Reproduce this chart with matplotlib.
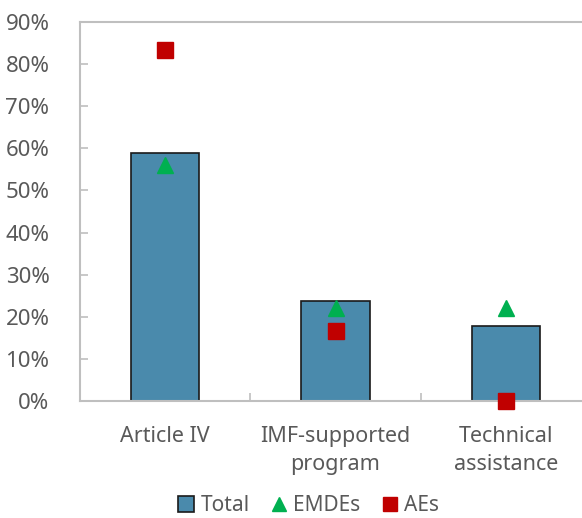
import matplotlib
matplotlib.use("Agg")
import matplotlib.pyplot as plt
from matplotlib.lines import Line2D
from matplotlib.patches import Patch
import numpy as np

categories = ["Article IV", "IMF-supported\nprogram", "Technical\nassistance"]
total = [59.0, 23.8, 17.8]
emdes = [56.0, 22.0, 22.0]
aes = [83.3, 16.7, 0.0]
yticks = [0, 10, 20, 30, 40, 50, 60, 70, 80, 90]

plt.rcParams['font.family'] = ['Noto Sans', 'DejaVu Sans']
txt = '#595959'
spine_c = '#BFBFBF'

fig = plt.figure(figsize=(5.82, 5.18), dpi=100)
ax = fig.add_axes([0.1375, 0.2259, 0.878, 0.7316])

x = np.arange(len(categories))
ax.bar(x, total, width=0.4, color='#4A8AAC', edgecolor='#1a1a1a', linewidth=1.2, zorder=2)
ax.plot(x, emdes, linestyle='none', marker='^', markersize=12, color='#00B050', zorder=3)
ax.plot(x, aes, linestyle='none', marker='s', markersize=12, color='#C00000', zorder=3, clip_on=False)

ax.set_xlim(-0.5, 2.5)
ax.set_ylim(0, 90)
ax.set_yticks(yticks)
ax.set_yticklabels([f"{v}%" for v in yticks])
ax.set_xticks(x)
ax.set_xticklabels(categories, linespacing=1.45)
ax.set_xticks([0.5, 1.5], minor=True)

for s in ['top', 'left', 'bottom']:
    ax.spines[s].set_color(spine_c)
    ax.spines[s].set_linewidth(1.5)
ax.spines['right'].set_visible(False)

ax.tick_params(axis='y', direction='in', length=6, color=spine_c, width=1.2,
               labelsize=16, labelcolor=txt, pad=22)
ax.tick_params(axis='x', which='major', length=0, labelsize=15.5, labelcolor=txt, pad=18)
ax.tick_params(axis='x', which='minor', direction='in', length=6, color=spine_c, width=1.2)

handles = [Patch(facecolor='#4A8AAC', edgecolor='#1a1a1a', linewidth=1.2, label='Total'),
           Line2D([], [], linestyle='none', marker='^', markersize=10, color='#00B050', label='EMDEs'),
           Line2D([], [], linestyle='none', marker='s', markersize=10, color='#C00000', label='AEs')]
leg = fig.legend(handles=handles, loc='lower center', bbox_to_anchor=(0.53, -0.033), ncol=3,
                 frameon=False, fontsize=15, handlelength=0.8, handleheight=0.8,
                 handletextpad=0.3, columnspacing=1.0, labelcolor=txt)

fig.savefig("out.png", dpi=100)
